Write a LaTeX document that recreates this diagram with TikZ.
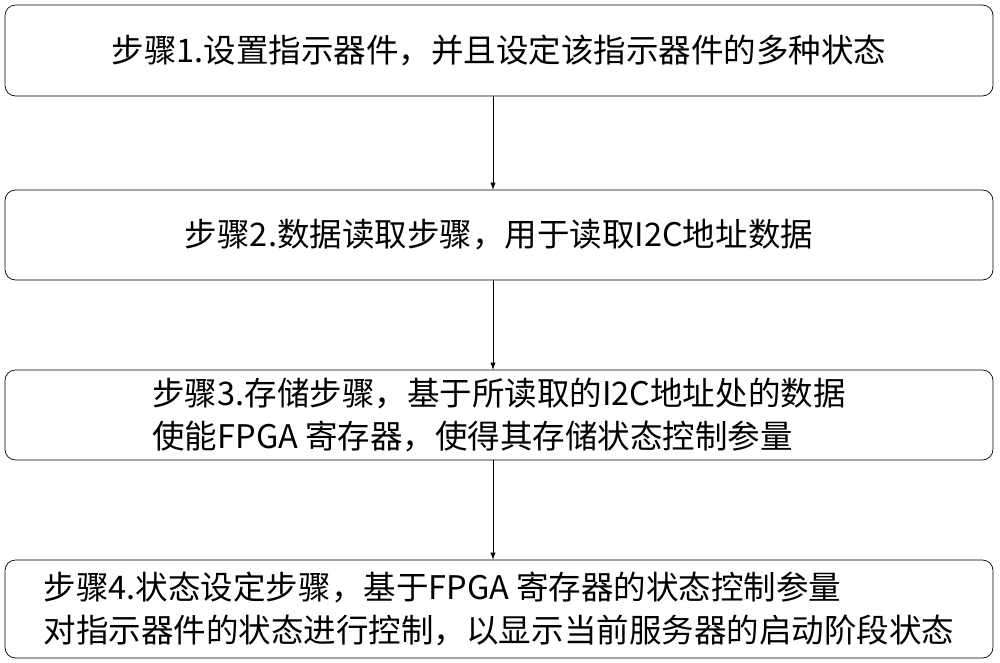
\documentclass[tikz,border=0pt]{standalone}
\usepackage{fontspec}
\setmainfont{Liberation Sans}
\newfontfamily\cjk{Noto Sans CJK SC}
\usetikzlibrary{positioning}
\tikzset{stepbox/.style={draw, rounded corners=6pt, minimum width=19.76cm, font=\cjk\fontsize{18.5}{24}\selectfont, align=left, inner sep=0pt}}
\begin{document}
\begin{tikzpicture}[>=latex]
\useasboundingbox (0,0) rectangle (20,-13.24);
\node[stepbox, minimum height=1.82cm] (s1) at (9.98,-1.01) {步骤1.设置指示器件，并且设定该指示器件的多种状态};
\node[stepbox, minimum height=1.8cm] (s2) at (9.98,-4.7) {步骤2.数据读取步骤，用于读取I2C地址数据};
\node[stepbox, minimum height=1.8cm] (s3) at (9.98,-8.3) {步骤3.存储步骤，基于所读取的I2C地址处的数据\\使能FPGA 寄存器，使得其存储状态控制参量};
\node[stepbox, minimum height=1.96cm] (s4) at (9.98,-12.18) {步骤4.状态设定步骤，基于FPGA 寄存器的状态控制参量\\对指示器件的状态进行控制，以显示当前服务器的启动阶段状态};

\draw[->] (s1.south -| 9.86,0) -- (s2.north -| 9.86,0);
\draw[->] (s2.south -| 9.86,0) -- (s3.north -| 9.86,0);
\draw[->] (s3.south -| 9.86,0) -- (s4.north -| 9.86,0);
\end{tikzpicture}
\end{document}
